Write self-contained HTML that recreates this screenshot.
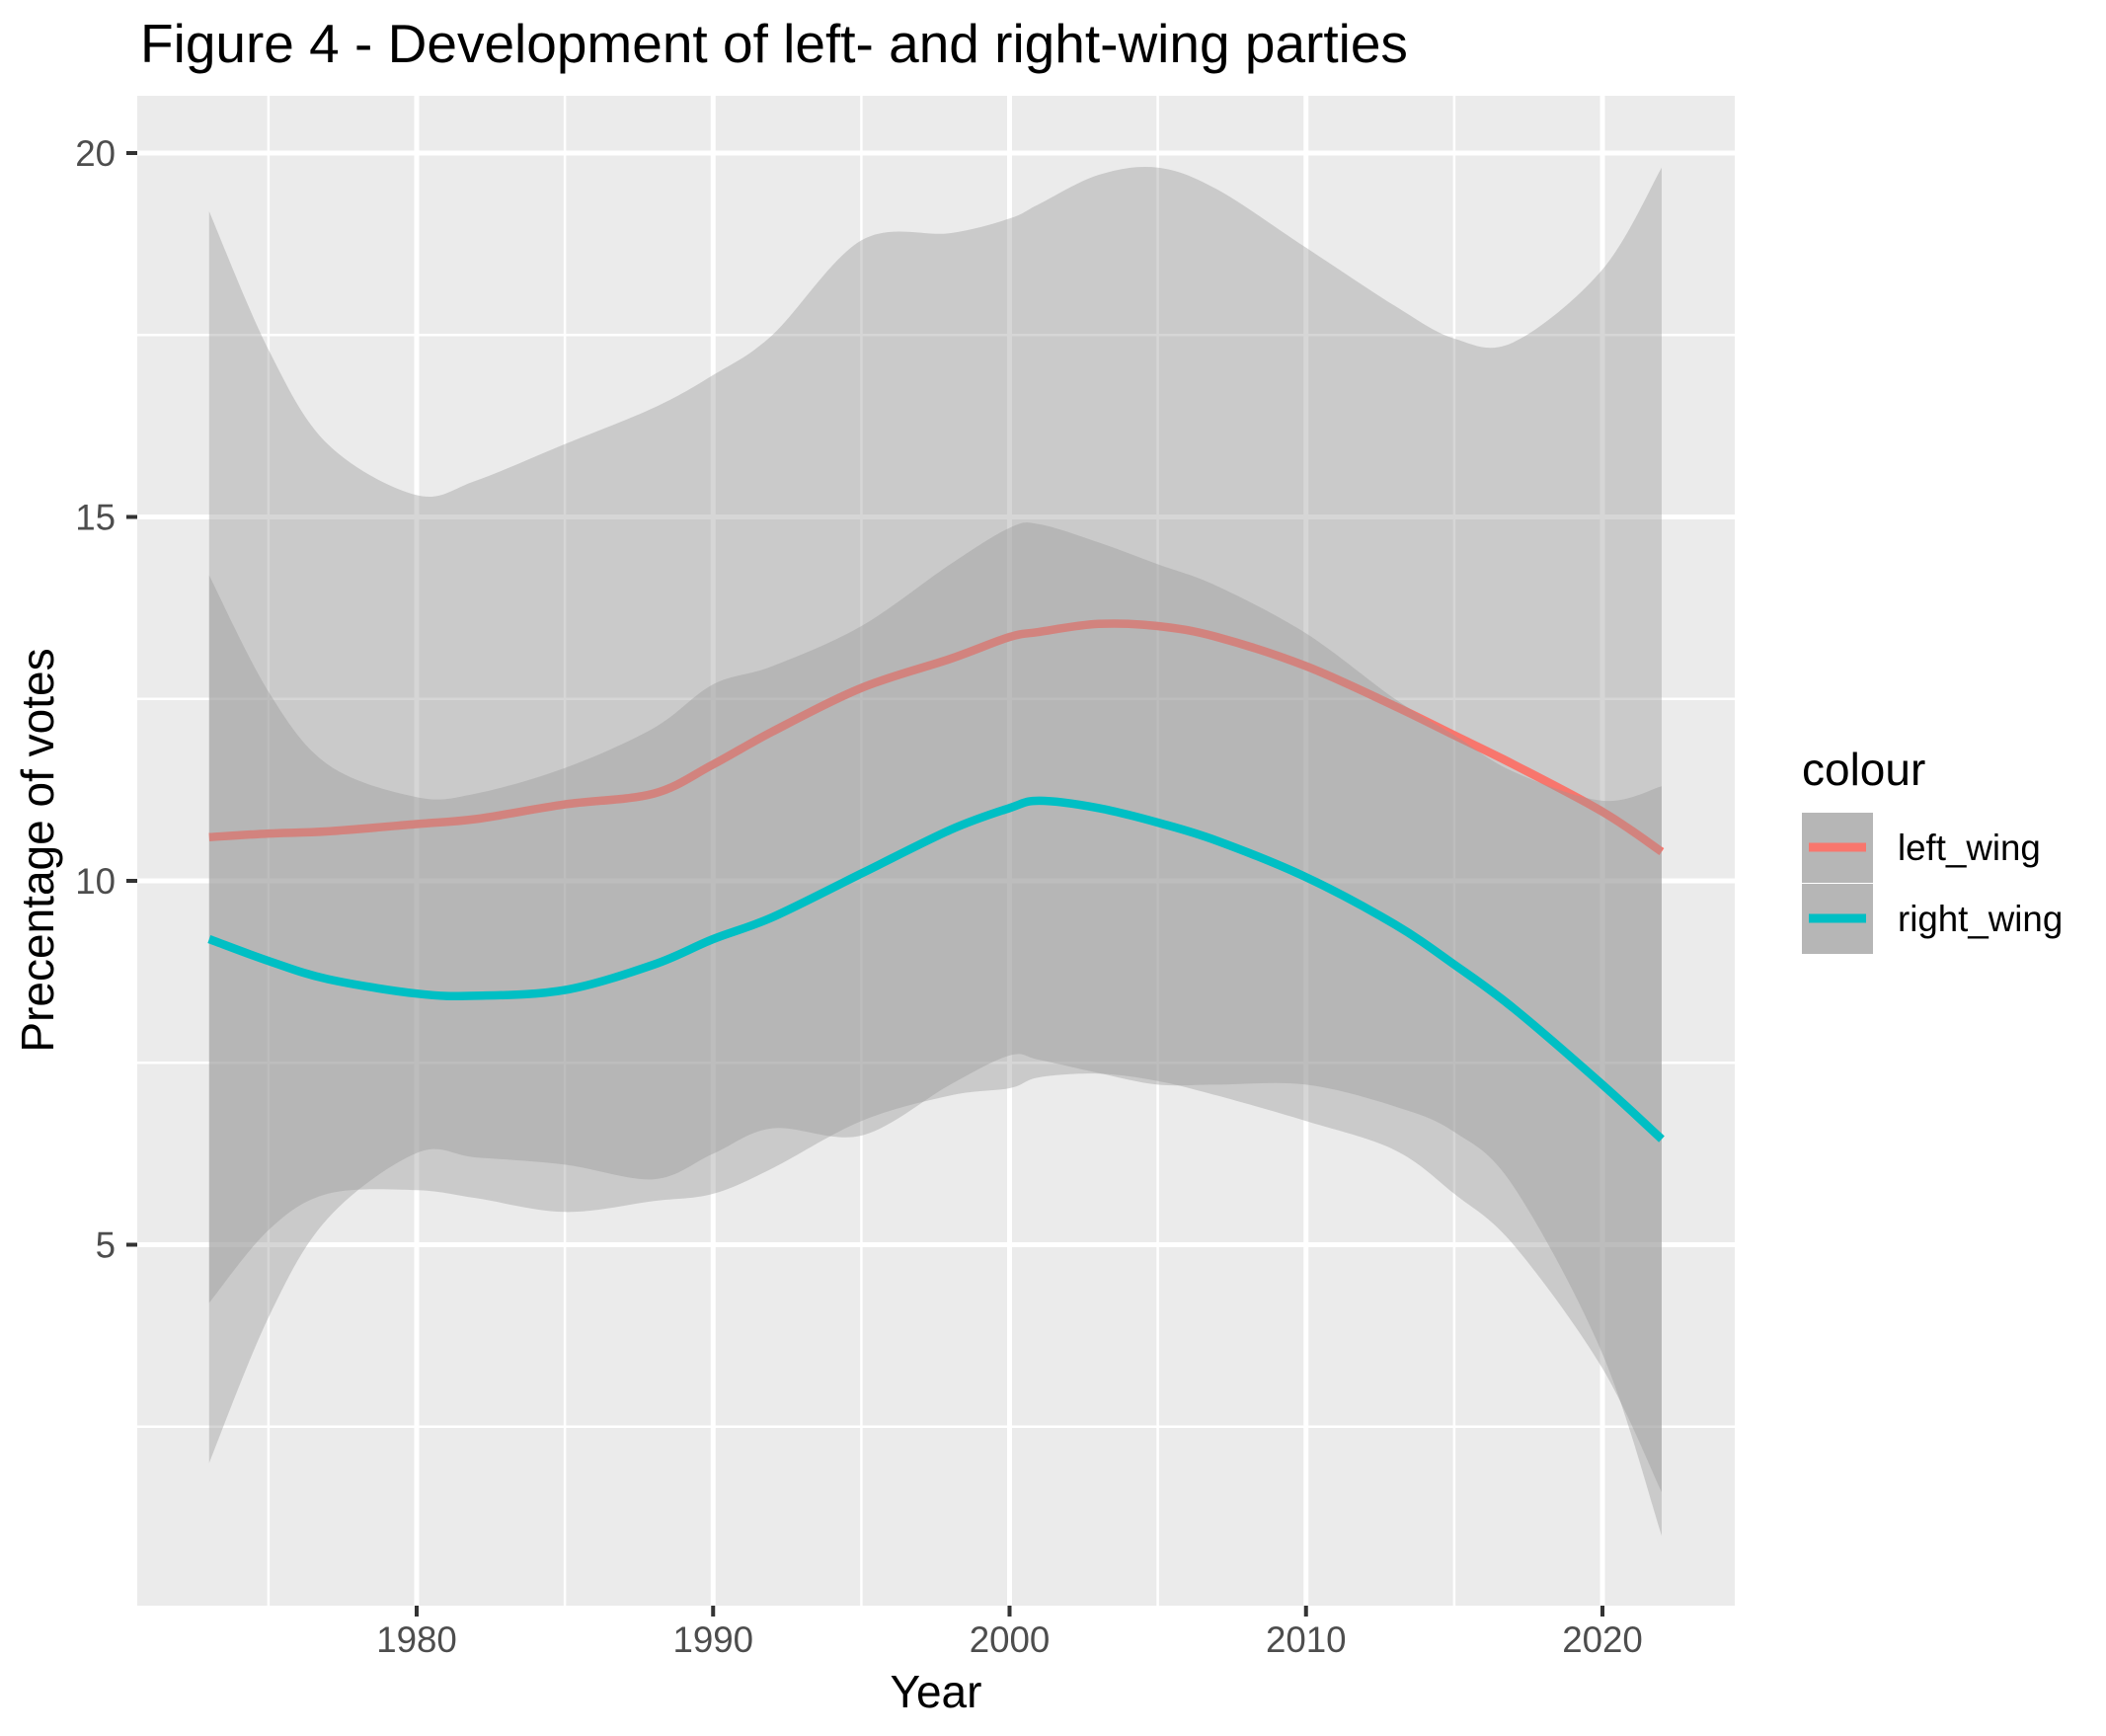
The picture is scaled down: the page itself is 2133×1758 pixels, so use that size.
<!DOCTYPE html>
<html><head><meta charset="utf-8"><style>
html,body{margin:0;padding:0;background:#fff;}
svg{display:block;font-family:"Liberation Sans",Arial,sans-serif;}
</style></head><body>
<svg id="chart" width="2133" height="1758" viewBox="0 0 2133 1758">
<rect x="0" y="0" width="2133" height="1758" fill="#fff"/>
<text x="142" y="63" font-size="55" fill="#000">Figure 4 - Development of left- and right-wing parties</text>
<rect x="139" y="97" width="1618" height="1529" fill="#EBEBEB"/>
<g id="grid"></g>
<g id="marks"></g>
<g id="axes"></g>
<text x="948" y="1729" font-size="46" text-anchor="middle" fill="#000">Year</text>
<text transform="translate(54,861) rotate(-90)" font-size="46" text-anchor="middle" fill="#000">Precentage of votes</text>
<g>
<text x="1825" y="795" font-size="46" fill="#000">colour</text>
<g>
<rect x="1825" y="823" width="72" height="71" fill="#B6B6B6"/>
<line x1="1832" x2="1890" y1="858" y2="858" stroke="#F8766D" stroke-width="9"/>
<text x="1922" y="871" font-size="36.7" fill="#000">left_wing</text>
</g>
<g>
<rect x="1825" y="895" width="72" height="71" fill="#B6B6B6"/>
<line x1="1832" x2="1890" y1="930" y2="930" stroke="#00BFC4" stroke-width="9"/>
<text x="1922" y="943" font-size="36.7" fill="#000">right_wing</text>
</g>
</g>
</svg>
<script>
const years = [1973,1975,1977,1980,1982,1985,1988,1990,1992,1995,1998,2000,2001,2003,2005,2007,2010,2013,2015,2017,2020,2022];
const leftFit = [10.6,10.65,10.68,10.78,10.85,11.05,11.2,11.6,12.05,12.65,13.05,13.35,13.42,13.53,13.5,13.35,12.95,12.4,12.0,11.6,10.95,10.4];
const leftUpper = [19.2,17.3,16.0,15.3,15.5,16.0,16.5,16.95,17.5,18.8,18.9,19.1,19.3,19.7,19.8,19.5,18.7,17.9,17.45,17.4,18.4,19.8];
const leftLower = [2.0,4.0,5.36,6.26,6.2,6.1,5.9,6.25,6.6,6.5,7.2,7.6,7.54,7.36,7.2,7.2,7.2,6.9,6.55,5.8,3.5,1.0];
const rightFit = [9.2,8.9,8.65,8.45,8.42,8.5,8.85,9.2,9.5,10.1,10.7,11.0,11.1,11.0,10.8,10.55,10.05,9.4,8.85,8.25,7.2,6.45];
const rightUpper = [14.2,12.6,11.6,11.15,11.2,11.55,12.1,12.7,12.95,13.5,14.35,14.85,14.9,14.65,14.35,14.05,13.4,12.5,12.0,11.5,11.1,11.3];
const rightLower = [4.2,5.2,5.7,5.75,5.64,5.45,5.6,5.7,6.05,6.7,7.05,7.15,7.3,7.35,7.25,7.05,6.7,6.3,5.7,5.0,3.3,1.6];
const xTicks = [1980,1990,2000,2010,2020];
const xMinor = [1975,1985,1995,2005,2015];
const yTicks = [5,10,15,20];
const yMinor = [2.5,7.5,12.5,17.5];

const NS = "http://www.w3.org/2000/svg";
const PX0 = 139, PX1 = 1757, PY0 = 97, PY1 = 1626;
function xs(v){ return 422 + (v - 1980) * (1623 - 422) / 40; }
function ys(v){ return 155 + (20 - v) * 73.7; }
function mk(tag, attrs, parent){ const e = document.createElementNS(NS, tag); for (const k in attrs) e.setAttribute(k, attrs[k]); parent.appendChild(e); return e; }
function smooth(pts){
  let d = "M" + pts[0][0].toFixed(1) + "," + pts[0][1].toFixed(1);
  for (let i = 0; i < pts.length - 1; i++){
    const p0 = pts[Math.max(0,i-1)], p1 = pts[i], p2 = pts[i+1], p3 = pts[Math.min(pts.length-1,i+2)];
    const c1 = [p1[0] + (p2[0]-p0[0])/6, p1[1] + (p2[1]-p0[1])/6];
    const c2 = [p2[0] - (p3[0]-p1[0])/6, p2[1] - (p3[1]-p1[1])/6];
    d += " C" + c1[0].toFixed(1) + "," + c1[1].toFixed(1) + " " + c2[0].toFixed(1) + "," + c2[1].toFixed(1) + " " + p2[0].toFixed(1) + "," + p2[1].toFixed(1);
  }
  return d;
}
function linePath(vals){ return smooth(years.map((y,i)=>[xs(y), ys(vals[i])])); }
function ribbonPath(up, lo){
  const top = years.map((y,i)=>[xs(y), ys(up[i])]);
  const bot = years.map((y,i)=>[xs(y), ys(lo[i])]).reverse();
  return smooth(top) + " L" + smooth(bot).slice(1) + " Z";
}

const grid = document.getElementById("grid");
xMinor.forEach(v=>{ const l = mk("line",{x1:xs(v),x2:xs(v),y1:PY0,y2:PY1,stroke:"#fff","stroke-width":2.5},grid);
  
   });
yMinor.forEach(v=>{ const l = mk("line",{x1:PX0,x2:PX1,y1:ys(v),y2:ys(v),stroke:"#fff","stroke-width":2.5},grid);
  
   });
xTicks.forEach(v=>{ const l = mk("line",{x1:xs(v),x2:xs(v),y1:PY0,y2:PY1,stroke:"#fff","stroke-width":5},grid);
  
   });
yTicks.forEach(v=>{ const l = mk("line",{x1:PX0,x2:PX1,y1:ys(v),y2:ys(v),stroke:"#fff","stroke-width":5},grid);
  
   });

const marks = document.getElementById("marks");
const lr = mk("path",{d:ribbonPath(leftUpper,leftLower),fill:"#999999","fill-opacity":0.4},marks);


const ll = mk("path",{d:linePath(leftFit),fill:"none",stroke:"#F8766D","stroke-width":8.5,"stroke-linejoin":"round"},marks);


const rr = mk("path",{d:ribbonPath(rightUpper,rightLower),fill:"#999999","fill-opacity":0.4},marks);


const rl = mk("path",{d:linePath(rightFit),fill:"none",stroke:"#00BFC4","stroke-width":8.5,"stroke-linejoin":"round"},marks);



const axes = document.getElementById("axes");
xTicks.forEach(v=>{
  const t = mk("line",{x1:xs(v),x2:xs(v),y1:PY1,y2:PY1+11,stroke:"#333","stroke-width":4},axes);
  
  
  const tx = mk("text",{x:xs(v),y:1673,"font-size":36.7,"text-anchor":"middle",fill:"#4D4D4D"},axes);
  tx.textContent = String(v);
  
  
});
yTicks.forEach(v=>{
  const t = mk("line",{x1:PX0-11,x2:PX0,y1:ys(v),y2:ys(v),stroke:"#333","stroke-width":4},axes);
  
  
  const tx = mk("text",{x:117,y:ys(v)+13,"font-size":36.7,"text-anchor":"end",fill:"#4D4D4D"},axes);
  tx.textContent = String(v);
  
  
});
</script>
</body></html>
